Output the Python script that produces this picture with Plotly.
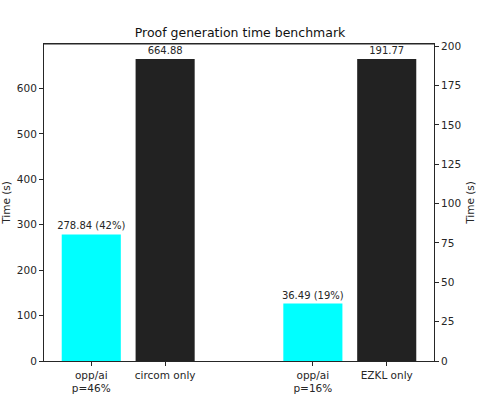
import plotly.graph_objects as go

labels = ["opp/ai<br>p=46%", "circom only", "opp/ai<br>p=16%", "EZKL only"]
positions = [0, 1, 3, 4]
circom_times = [278.84, 664.88]
circom_text = ["278.84 (42%)", "664.88"]
ezkl_times = [36.49, 191.77]
ezkl_text = ["36.49 (19%)", "191.77"]
colors = ["#00ffff", "#222222"]

font = "DejaVu Sans"
ink = "#262626"

W, H = 480, 394

fig = go.Figure()
fig.add_trace(go.Bar(
    x=positions[:2], y=circom_times, text=circom_text, width=0.8,
    marker=dict(color=colors, line=dict(width=0)),
    textposition="outside", cliponaxis=False, constraintext="none", yaxis="y",
    textfont=dict(family=font, size=10, color=ink),
))
fig.add_trace(go.Bar(
    x=positions[2:], y=ezkl_times, text=ezkl_text, width=0.8,
    marker=dict(color=colors, line=dict(width=0)),
    textposition="outside", cliponaxis=False, constraintext="none", yaxis="y2",
    textfont=dict(family=font, size=10, color=ink),
))

axis_common = dict(
    showline=True, linecolor=ink, linewidth=1, ticks="outside", ticklen=4,
    tickcolor=ink, showgrid=False, zeroline=False, automargin=False,
    tickfont=dict(family=font, size=10.5, color=ink),
)

fig.update_layout(
    width=W, height=H,
    margin=dict(l=44, r=46, t=44, b=33),
    paper_bgcolor="white", plot_bgcolor="white",
    showlegend=False,
    title=dict(text="Proof generation time benchmark", x=0.5, xanchor="center",
               y=1 - 33 / H, yanchor="middle",
               font=dict(family=font, size=12.5, color="#111111")),
    xaxis=dict(**axis_common, range=[-0.64, 4.64], tickvals=positions,
               ticktext=labels, mirror=True),
    yaxis=dict(**axis_common, range=[0, 664.88 * 1.05], dtick=100,
               title=dict(text="Time (s)", standoff=8,
                          font=dict(family=font, size=10.5, color=ink))),
    yaxis2=dict(**axis_common, range=[0, 191.77 * 1.05], dtick=25,
                overlaying="y", side="right",
                title=dict(text="Time (s)", standoff=6,
                           font=dict(family=font, size=10.5, color=ink))),
    # top spine of the frame
    shapes=[dict(type="line", xref="paper", yref="paper", x0=0, x1=1, y0=1, y1=1,
                 line=dict(color=ink, width=1), layer="above")],
)

# drop the default 8px page margin so the figure sits at the window corner
fig.write_html("out.html", config={"displayModeBar": False},
               post_script="document.body.style.margin='0';")
